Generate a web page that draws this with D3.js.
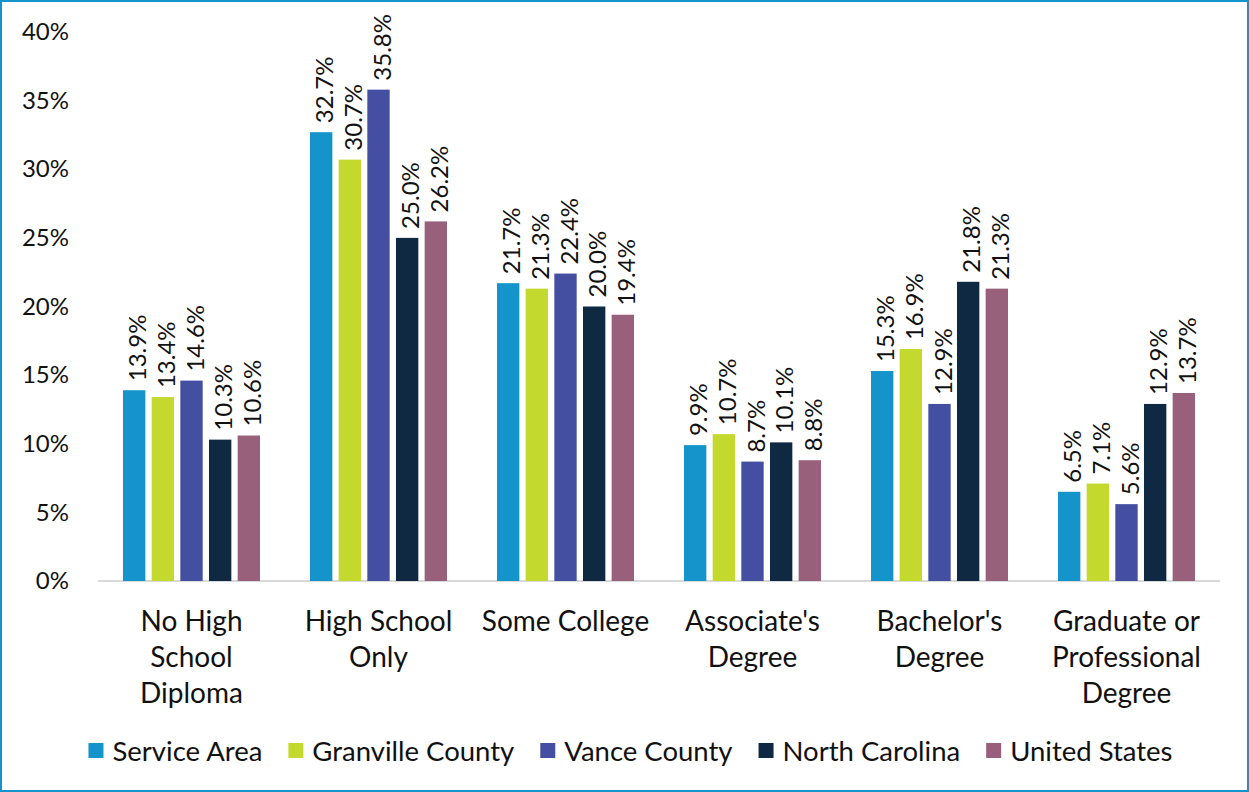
<!DOCTYPE html>
<html lang="en">
<head>
<meta charset="utf-8">
<title>Educational Attainment</title>
<script src="https://cdn.jsdelivr.net/npm/d3@7"></script>
<style>
  body { margin: 0; background: #fff; }
  svg text { font-family: Lato, "Open Sans", sans-serif; fill: #111; }
</style>
</head>
<body>
<div id="chart"></div>
<script>
var categories = [
  ["No High", "School", "Diploma"],
  ["High School", "Only"],
  ["Some College"],
  ["Associate's", "Degree"],
  ["Bachelor's", "Degree"],
  ["Graduate or", "Professional", "Degree"]
];
var seriesNames = ["Service Area", "Granville County", "Vance County", "North Carolina", "United States"];
var seriesColors = ["#1594cb", "#c4d92e", "#444fa1", "#0f2942", "#98607a"];
var serviceArea = [13.9, 32.7, 21.7, 9.9, 15.3, 6.5];
var granville   = [13.4, 30.7, 21.3, 10.7, 16.9, 7.1];
var vance       = [14.6, 35.8, 22.4, 8.7, 12.9, 5.6];
var northCarolina = [10.3, 25.0, 20.0, 10.1, 21.8, 12.9];
var unitedStates  = [10.6, 26.2, 19.4, 8.8, 21.3, 13.7];
var yTicks = [0, 5, 10, 15, 20, 25, 30, 35, 40];

var series = [serviceArea, granville, vance, northCarolina, unitedStates];

var W = 1249, H = 792;
var margin = {top: 32, right: 29, bottom: 211, left: 98};
var width = W - margin.left - margin.right;
var height = H - margin.top - margin.bottom;

var svg = d3.select("#chart").append("svg")
    .attr("width", W).attr("height", H);

// outer border
svg.append("rect")
    .attr("x", 1).attr("y", 1).attr("width", W - 2).attr("height", H - 2)
    .attr("fill", "none").attr("stroke", "#1594cb").attr("stroke-width", 2);

var g = svg.append("g")
    .attr("transform", "translate(" + margin.left + "," + margin.top + ")");

var groupW = 137;
var x0 = d3.scaleBand().domain(d3.range(categories.length)).range([0, width]).padding(0);
var x1 = d3.scaleBand().domain(d3.range(seriesNames.length))
    .range([0, groupW]).paddingInner(0.22);
var y = d3.scaleLinear().domain([0, 40]).range([height, 0]);

// y axis labels
var yAxis = d3.axisLeft(y).tickValues(yTicks).tickFormat(function(d) { return d + "%"; }).tickSize(0).tickPadding(29);
g.append("g").call(yAxis)
    .call(function(s) { s.select(".domain").remove(); })
    .selectAll("text").style("font-size", "24px").attr("fill", "#111")
    .style("font-family", "Lato, sans-serif");

// baseline
g.append("line").attr("x1", 0).attr("x2", width).attr("y1", y(0)).attr("y2", y(0))
    .attr("stroke", "#d9d9d9").attr("stroke-width", 2);

var groups = g.selectAll(".grp").data(categories).enter().append("g")
    .attr("transform", function(d, i) {
      return "translate(" + (x0(i) + x0.bandwidth() / 2 - groupW / 2) + ",0)";
    });

groups.each(function(cat, ci) {
  var grp = d3.select(this);
  series.forEach(function(vals, si) {
    var v = vals[ci];
    grp.append("rect")
      .attr("x", x1(si)).attr("width", x1.bandwidth())
      .attr("y", y(v)).attr("height", y(0) - y(v))
      .attr("fill", seriesColors[si]);
    var cx = x1(si) + x1.bandwidth() / 2;
    grp.append("text")
      .attr("transform", "translate(" + (cx + 12) + "," + (y(v) - 9) + ") rotate(-90)")
      .attr("text-anchor", "start")
      .style("font-size", "24px")
      .text(v.toFixed(1) + "%");
  });
});

// category labels
var catLabels = g.selectAll(".cat").data(categories).enter().append("text")
    .attr("text-anchor", "middle")
    .attr("x", function(d, i) { return x0(i) + x0.bandwidth() / 2; })
    .attr("y", height + 50)
    .style("font-size", "28px");
catLabels.each(function(lines) {
  var t = d3.select(this);
  lines.forEach(function(line, li) {
    t.append("tspan").attr("x", t.attr("x")).attr("dy", li === 0 ? 0 : 36).text(line);
  });
});

// legend
var legend = svg.append("g").attr("transform", "translate(0,751)");
var items = legend.selectAll(".li").data(seriesNames).enter().append("g");
items.append("rect").attr("width", 15).attr("height", 15).attr("y", -8)
    .attr("fill", function(d, i) { return seriesColors[i]; });
items.append("text").attr("x", 24).attr("dy", "0.36em")
    .style("font-size", "27.5px").text(function(d) { return d; });
var xpos = 0, offsets = [];
items.each(function() {
  offsets.push(xpos);
  xpos += this.getBBox().width + 26;
});
var totalW = xpos - 26;
var start = (W - totalW) / 2 + 6;
items.attr("transform", function(d, i) { return "translate(" + (start + offsets[i]) + ",0)"; });
</script>
</body>
</html>
